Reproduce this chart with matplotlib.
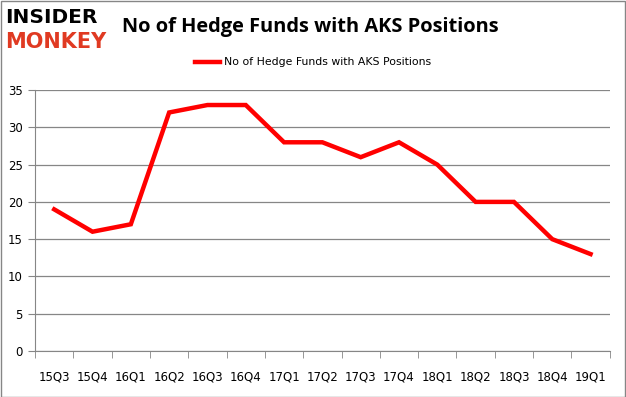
import numpy as np
import matplotlib.pyplot as plt

quarters = ['15Q3', '15Q4', '16Q1', '16Q2', '16Q3', '16Q4', '17Q1', '17Q2',
            '17Q3', '17Q4', '18Q1', '18Q2', '18Q3', '18Q4', '19Q1']
funds = [19, 16, 17, 32, 33, 33, 28, 28, 26, 28, 25, 20, 20, 15, 13]

fig = plt.figure(figsize=(6.26, 3.97), dpi=100)
ax = fig.add_axes([0.056, 0.116, 0.918, 0.657])

x = np.arange(len(quarters))
ax.plot(x, funds, color='#ff0000', lw=3.2, solid_joinstyle='miter',
        label='No of Hedge Funds with AKS Positions')

ax.set_xlim(-0.5, len(quarters) - 0.5)
ax.set_ylim(0, 35)
ax.set_yticks(np.arange(0, 36, 5))
ax.set_xticks(x)
ax.set_xticklabels(quarters)
ax.set_xticks(np.arange(-0.5, len(quarters), 1), minor=True)
ax.tick_params(axis='x', which='major', length=0, pad=14, labelsize=8.5)
ax.tick_params(axis='x', which='minor', length=5, color='#868686')
ax.tick_params(axis='y', length=5, color='#868686', labelsize=8.5, pad=4)
ax.grid(axis='y', color='#868686', lw=0.9)
ax.set_axisbelow(True)
for s in ['top', 'right']:
    ax.spines[s].set_visible(False)
for s in ['left', 'bottom']:
    ax.spines[s].set_color('#868686')

leg = fig.legend(loc='center', bbox_to_anchor=(0.5, 0.843), frameon=False,
                 fontsize=7.8, handlelength=2.3, handletextpad=0.3)

fig.text(0.195, 0.932, 'No of Hedge Funds with AKS Positions', fontsize=14.4,
         fontweight='bold', va='center', family='Open Sans')
fig.text(0.008, 0.955, 'INSIDER', fontsize=14.5, fontweight='heavy',
         color='black', va='center', family='DejaVu Sans')
fig.text(0.008, 0.895, 'MONKEY', fontsize=15, fontweight='heavy',
         color='#e03a22', va='center', family='DejaVu Sans')

fig.patches.append(plt.Rectangle((0.001, 0.001), 0.997, 0.997, transform=fig.transFigure,
                                 fill=False, edgecolor='#868686', lw=1))

fig.savefig('out.png', dpi=100)
